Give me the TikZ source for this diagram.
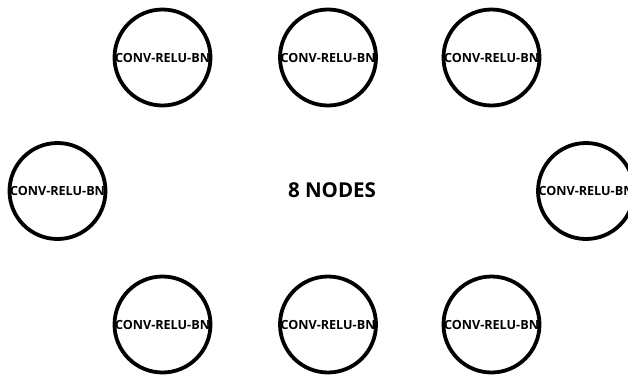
\documentclass[tikz,border=0pt]{standalone}
\usepackage{fontspec}
\setmainfont{Open Sans}
\tikzset{
  unit/.style={circle, draw=black, line width=3.8pt, minimum size=96pt, inner sep=0pt, font=\fontsize{12.6}{14}\selectfont\bfseries, text=black},
  title/.style={font=\fontsize{20.5}{24}\selectfont\bfseries, text=black}
}
\begin{document}
\begin{tikzpicture}[x=1pt,y=-1pt]
\useasboundingbox (0,0) rectangle (628,381);
\node[unit] (n1) at (162.5,57.5) {CONV-RELU-BN};
\node[unit] (n2) at (328,57.5) {CONV-RELU-BN};
\node[unit] (n3) at (491.5,57.5) {CONV-RELU-BN};
\node[unit] (n4) at (57.5,191) {CONV-RELU-BN};
\node[unit] (n5) at (586,191) {CONV-RELU-BN};
\node[unit] (n6) at (162.5,324.5) {CONV-RELU-BN};
\node[unit] (n7) at (328,324.5) {CONV-RELU-BN};
\node[unit] (n8) at (491.5,324.5) {CONV-RELU-BN};
\node[title] (t) at (332,190) {8 NODES};
\end{tikzpicture}
\end{document}
